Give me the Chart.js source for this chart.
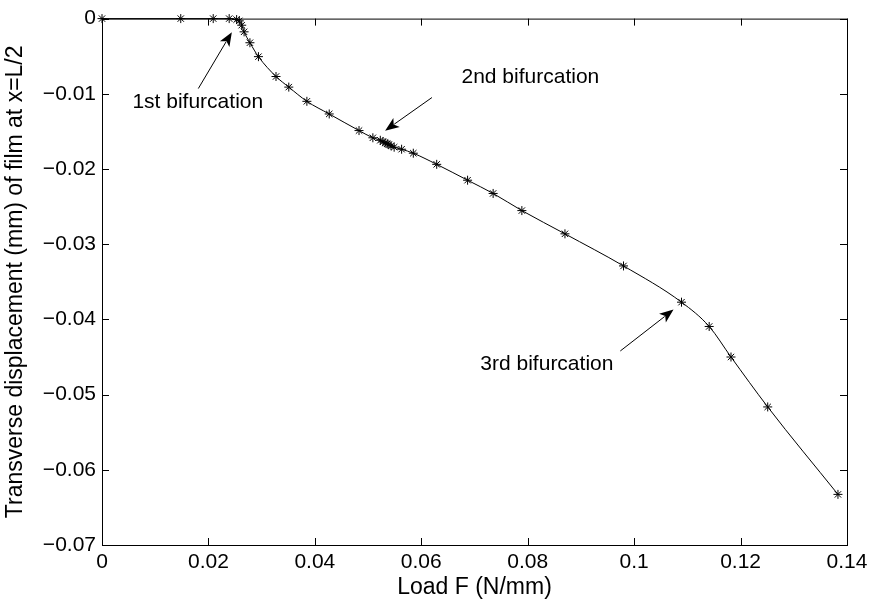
<!DOCTYPE html>
<html>
<head>
<meta charset="utf-8">
<script src="https://cdn.jsdelivr.net/npm/chart.js"></script>
<style>
  html, body { margin: 0; padding: 0; background: #fff; }
  #wrap { width: 873px; height: 602px; }
</style>
</head>
<body>
<div id="wrap"><canvas id="bifChart" width="873" height="602"></canvas></div>
<script>
// load F (N/mm) and transverse displacement (mm)
const loadF = [0, 0.0148, 0.0209, 0.0239, 0.0253, 0.0258, 0.02625, 0.0267, 0.0278, 0.0294,
    0.0327, 0.0351, 0.0385, 0.0427, 0.0483, 0.0509, 0.0523, 0.0528, 0.0532, 0.0536,
    0.0539, 0.0543, 0.0549, 0.0563, 0.0585, 0.0629, 0.0687, 0.0735, 0.0789, 0.0870,
    0.0980, 0.1089, 0.1141, 0.1182, 0.1251, 0.1383];
const displacement = [0, 0, 0, 0, -0.00013, -0.0003, -0.00088, -0.00176, -0.00321, -0.00506,
    -0.0077, -0.00911, -0.0110, -0.01268, -0.01489, -0.01585, -0.01618, -0.01638, -0.01651, -0.01664,
    -0.01677, -0.01691, -0.0171, -0.01737, -0.0179, -0.01938, -0.02149, -0.02325, -0.02553, -0.02862,
    -0.03289, -0.03771, -0.04094, -0.045, -0.05164, -0.06327];

const xTickLabels = ['0', '0.02', '0.04', '0.06', '0.08', '0.1', '0.12', '0.14'];
const yTickLabels = ['\u22120.07', '\u22120.06', '\u22120.05', '\u22120.04', '\u22120.03', '\u22120.02', '\u22120.01', '0'];

// annotations: label position, arrow tail and arrow head (data units)
const noteText = ['1st bifurcation', '2nd bifurcation', '3rd bifurcation'];
const noteAt = [[0.0180, -0.0111], [0.0805, -0.0078], [0.0836, -0.0459]];
const arrowFrom = [[0.0181, -0.0093], [0.0620, -0.0105], [0.0974, -0.0442]];
const arrowTo = [[0.0244, -0.0018], [0.0532, -0.0149], [0.1074, -0.0387]];

const FONT = '"Liberation Sans", Arial, Helvetica, sans-serif';

// box round the plot with inward ticks, plus the text arrows
const boxAndNotes = {
    id: 'boxAndNotes',
    beforeDatasetsDraw(chart) {
        const ctx = chart.ctx;
        const a = chart.chartArea;
        const xs = chart.scales.x, ys = chart.scales.y;
        const tl = 7;
        ctx.save();
        ctx.strokeStyle = '#000';
        ctx.lineWidth = 1;
        ctx.strokeRect(a.left + 0.5, a.top + 0.5, a.right - a.left, a.bottom - a.top);
        ctx.beginPath();
        xs.ticks.forEach(t => {
            const px = Math.round(xs.getPixelForValue(t.value)) + 0.5;
            ctx.moveTo(px, a.bottom); ctx.lineTo(px, a.bottom - tl);
            ctx.moveTo(px, a.top); ctx.lineTo(px, a.top + tl);
        });
        ys.ticks.forEach(t => {
            const py = Math.round(ys.getPixelForValue(t.value)) + 0.5;
            ctx.moveTo(a.left, py); ctx.lineTo(a.left + tl, py);
            ctx.moveTo(a.right, py); ctx.lineTo(a.right - tl, py);
        });
        ctx.stroke();
        ctx.restore();
    },
    afterDraw(chart) {
        const ctx = chart.ctx;
        const xs = chart.scales.x, ys = chart.scales.y;
        ctx.save();
        ctx.strokeStyle = '#000';
        ctx.fillStyle = '#000';
        ctx.lineWidth = 1;
        ctx.font = '21px ' + FONT;
        ctx.textAlign = 'center';
        ctx.textBaseline = 'middle';
        noteText.forEach((txt, i) => {
            ctx.fillText(txt, xs.getPixelForValue(noteAt[i][0]), ys.getPixelForValue(noteAt[i][1]));
            const x0 = xs.getPixelForValue(arrowFrom[i][0]), y0 = ys.getPixelForValue(arrowFrom[i][1]);
            const x1 = xs.getPixelForValue(arrowTo[i][0]), y1 = ys.getPixelForValue(arrowTo[i][1]);
            const ang = Math.atan2(y1 - y0, x1 - x0);
            const hl = 14, hw = 5.5;
            ctx.beginPath();
            ctx.moveTo(x0, y0);
            ctx.lineTo(x1 - Math.cos(ang) * hl * 0.8, y1 - Math.sin(ang) * hl * 0.8);
            ctx.stroke();
            // filled head with a small notch
            const bx = x1 - Math.cos(ang) * hl, by = y1 - Math.sin(ang) * hl;
            const nx = x1 - Math.cos(ang) * hl * 0.75, ny = y1 - Math.sin(ang) * hl * 0.75;
            ctx.beginPath();
            ctx.moveTo(x1, y1);
            ctx.lineTo(bx + Math.sin(ang) * hw, by - Math.cos(ang) * hw);
            ctx.lineTo(nx, ny);
            ctx.lineTo(bx - Math.sin(ang) * hw, by + Math.cos(ang) * hw);
            ctx.closePath();
            ctx.fill();
        });
        ctx.restore();
    }
};

const pts = loadF.map((f, i) => ({ x: f, y: displacement[i] }));

const ctx = document.getElementById('bifChart').getContext('2d');
const bifChart = new Chart(ctx, {
    type: 'scatter',
    data: {
        datasets: [{
            data: pts,
            showLine: true,
            clip: false,
            borderColor: '#000',
            backgroundColor: '#000',
            borderWidth: 1,
            cubicInterpolationMode: 'monotone',
            pointStyle: 'star',
            pointRadius: 4.5,
            pointBorderWidth: 1,
            pointBorderColor: '#000'
        }]
    },
    options: {
        responsive: false,
        animation: false,
        devicePixelRatio: 1,
        layout: { padding: { top: 15, right: 26, left: 0, bottom: 0 } },
        plugins: { legend: { display: false }, tooltip: { enabled: false } },
        scales: {
            x: {
                type: 'linear',
                min: 0, max: 0.14,
                grid: { display: false, drawTicks: false },
                border: { display: false },
                ticks: {
                    stepSize: 0.02,
                    padding: 5,
                    color: '#000',
                    font: { family: FONT, size: 21 },
                    maxRotation: 0,
                    callback: (v, i) => xTickLabels[i]
                },
                title: {
                    display: true,
                    text: 'Load F (N/mm)',
                    color: '#000',
                    font: { family: FONT, size: 23 },
                    padding: { top: 0, bottom: 1 }
                },
                afterFit: s => { s.height = 57; }
            },
            y: {
                type: 'linear',
                min: -0.07, max: 0,
                grid: { display: false, drawTicks: false },
                border: { display: false },
                ticks: {
                    stepSize: 0.01,
                    padding: 6,
                    color: '#000',
                    font: { family: FONT, size: 21 },
                    callback: (v, i) => yTickLabels[i]
                },
                title: {
                    display: true,
                    text: 'Transverse displacement (mm) of film at x=L/2',
                    color: '#000',
                    font: { family: FONT, size: 23 },
                    padding: { top: 2, bottom: 0 }
                },
                afterFit: s => { s.width = 102; }
            }
        }
    },
    plugins: [boxAndNotes]
});
</script>
</body>
</html>
